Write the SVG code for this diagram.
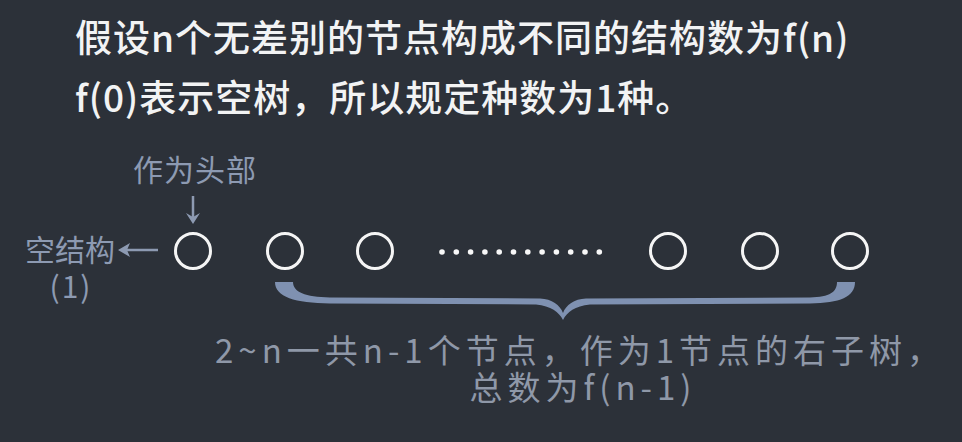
<svg xmlns="http://www.w3.org/2000/svg" width="962" height="442" viewBox="0 0 962 442">
<style>
  .cjk { font-family: "Noto Sans CJK SC", "Noto Sans", sans-serif; }
  .head { font-size: 37px; fill: #f2f3f4; font-weight: 500; letter-spacing: 1px; }
  .lbl { font-size: 30px; fill: #8d9ab2; }
  .note { font-size: 33px; fill: #8f98a8; letter-spacing: 5px; }
  .node { fill: none; stroke: #f5f5f5; stroke-width: 3; }
  .arrow { stroke: #8d9ab2; stroke-width: 2.5; fill: none; }
  .ahead { fill: #8d9ab2; }
</style>
<rect width="962" height="442" fill="#2c3139"/>

<g id="title">
  <text class="cjk head" x="75" y="52">假设n个无差别的节点构成不同的结构数为f(n)</text>
  <text class="cjk head" x="75" y="112" letter-spacing="0.3">f(0)表示空树，所以规定种数为1种。</text>
</g>

<g id="head-label">
  <text class="cjk lbl" x="195" y="181" text-anchor="middle" letter-spacing="1">作为头部</text>
</g>

<g id="empty-label">
  <text class="cjk lbl" x="70" y="261" text-anchor="middle">空结构</text>
  <text class="cjk lbl" x="71" y="298" text-anchor="middle" letter-spacing="2">(1)</text>
</g>

<g id="connectors">
  <line class="arrow" x1="193" y1="196" x2="193" y2="218"/>
  <path class="ahead" d="M186 213 L193 224 L200 213 L193 217 Z"/>
  <line class="arrow" x1="158" y1="250" x2="124" y2="250"/>
  <path class="ahead" d="M118 250 L130 243 L127 250 L130 257 Z"/>
</g>

<g id="node1"><circle class="node" cx="193" cy="251" r="17.5"/></g>
<g id="node2"><circle class="node" cx="285" cy="251" r="17.5"/></g>
<g id="node3"><circle class="node" cx="375" cy="251" r="17.5"/></g>
<g id="ellipsis" fill="#f7f7f7">
  <circle cx="442" cy="252" r="2.8"/><circle cx="456.3" cy="252" r="2.8"/><circle cx="470.6" cy="252" r="2.8"/>
  <circle cx="484.9" cy="252" r="2.8"/><circle cx="499.2" cy="252" r="2.8"/><circle cx="513.5" cy="252" r="2.8"/>
  <circle cx="527.8" cy="252" r="2.8"/><circle cx="542.1" cy="252" r="2.8"/><circle cx="556.4" cy="252" r="2.8"/>
  <circle cx="570.7" cy="252" r="2.8"/><circle cx="585" cy="252" r="2.8"/><circle cx="599.3" cy="252" r="2.8"/>
</g>
<g id="node4"><circle class="node" cx="668" cy="251" r="17.5"/></g>
<g id="node5"><circle class="node" cx="760" cy="251" r="17.5"/></g>
<g id="node6"><circle class="node" cx="850" cy="251" r="17.5"/></g>

<g id="brace">
  <path fill="#7f91b1" d="M 275 282 L 293 282 C 293 292, 305 297, 330 297.5 L 540 298.5 C 552 299, 560 305, 563 313 C 566 305, 574 299, 586 298.5 L 810 297.5 C 830 297, 837 292, 837 282 L 855 282 C 855 297, 840 303, 810 303.5 L 590 304.5 C 575 306, 567 312, 563 320 C 559 312, 551 306, 536 304.5 L 330 303.5 C 295 303, 275 297, 275 282 Z"/>
</g>

<g id="brace-label">
  <text class="cjk note" x="580" y="363" text-anchor="middle">2~n一共n-1个节点，作为1节点的右子树，</text>
  <text class="cjk note" x="583" y="400" text-anchor="middle">总数为f(n-1)</text>
</g>
</svg>
